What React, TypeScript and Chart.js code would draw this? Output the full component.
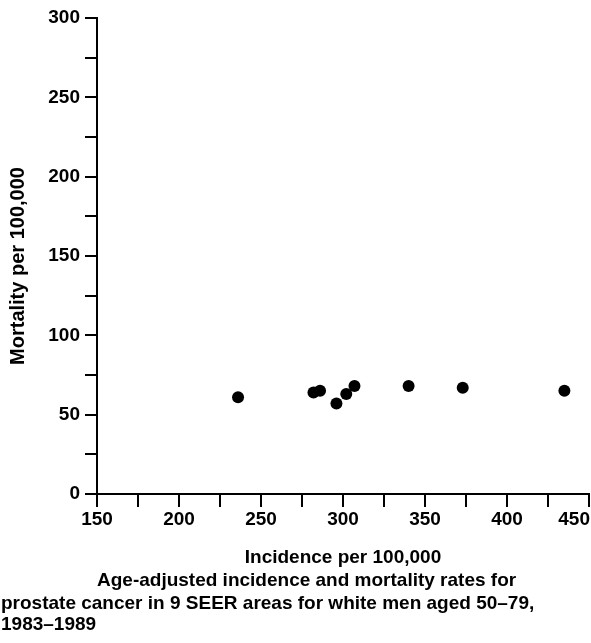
import React, { useEffect, useRef } from 'react';
import { Chart, registerables } from 'chart.js';

Chart.register(...registerables);

const incidence = [236, 282, 286, 296, 302, 307, 340, 373, 435];
const mortality = [61, 64, 65, 57, 63, 68, 68, 67, 65];
const xTickLabels = [150, 200, 250, 300, 350, 400, 450];
const yTickLabels = [0, 50, 100, 150, 200, 250, 300];
const xTitle = 'Incidence per 100,000';
const yTitle = 'Mortality per 100,000';
const captionLines = [
  'Age-adjusted incidence and mortality rates for',
  'prostate cancer in 9 SEER areas for white men aged 50–79,',
  '1983–1989',
];

const FONT = '"Liberation Sans", Arial, sans-serif';

export default function App() {
  const ref = useRef<HTMLCanvasElement>(null);

  useEffect(() => {
    document.body.style.margin = '0';
    const canvas = ref.current;
    if (!canvas) return;

    const textPlugin = {
      id: 'texts',
      afterDraw(chart: any) {
        const ctx = chart.ctx;
        const xs = chart.scales.x;
        const area = chart.chartArea;
        ctx.save();
        ctx.fillStyle = '#000';
        ctx.font = `bold 19px ${FONT}`;
        ctx.textBaseline = 'middle';
        ctx.textAlign = 'center';
        for (const v of xTickLabels) {
          const s = String(v);
          const w = ctx.measureText(s).width;
          let px = xs.getPixelForValue(v);
          px = Math.min(px, chart.width - w / 2 - 1);
          ctx.fillText(s, px, area.bottom + 26);
        }
        ctx.font = `bold 19px ${FONT}`;
        ctx.textBaseline = 'alphabetic';
        ctx.fillText(xTitle, (area.left + area.right) / 2, area.bottom + 69);

        ctx.save();
        ctx.translate(18, (area.top + area.bottom) / 2 + 10);
        ctx.rotate(-Math.PI / 2);
        ctx.textBaseline = 'middle';
        ctx.textAlign = 'center';
        ctx.font = `bold 20px ${FONT}`;
        ctx.fillText(yTitle, 0, 0);
        ctx.restore();

        ctx.textAlign = 'left';
        ctx.textBaseline = 'alphabetic';
        ctx.font = `bold 19px ${FONT}`;
        ctx.fillText(captionLines[0], area.left, area.bottom + 92);
        ctx.fillText(captionLines[1], 1, area.bottom + 115);
        ctx.fillText(captionLines[2], 1, area.bottom + 136);
        ctx.restore();
      },
    };

    const gridOpts = (len: number) => ({
      drawOnChartArea: false,
      drawTicks: true,
      tickLength: len,
      tickWidth: 2,
      lineWidth: 2,
      color: '#000',
    });

    const chart = new Chart(canvas, {
      type: 'scatter',
      data: {
        datasets: [
          {
            data: incidence.map((x, i) => ({ x, y: mortality[i] })),
            backgroundColor: '#000',
            borderColor: '#000',
            borderWidth: 0,
            pointRadius: 6,
            pointHoverRadius: 6,
          },
        ],
      },
      options: {
        responsive: false,
        animation: false,
        layout: { autoPadding: false, padding: { top: 18, right: 2, left: 0, bottom: 0 } },
        plugins: {
          legend: { display: false },
          tooltip: { enabled: false },
        },
        scales: {
          x: {
            type: 'linear',
            position: 'bottom',
            min: 150,
            max: 450,
            ticks: { stepSize: 25, callback: () => '' },
            grid: gridOpts(13),
            border: { display: true, color: '#000', width: 2 },
            afterFit: (s: any) => {
              s.height = 149;
              s.paddingLeft = 0;
              s.paddingRight = 0;
            },
          },
          y: {
            type: 'linear',
            min: 0,
            max: 300,
            ticks: {
              stepSize: 25,
              callback: (v: any) => (yTickLabels.includes(Number(v)) ? String(v) : ''),
              font: { family: FONT, size: 19, weight: 'bold' },
              color: '#000',
              padding: 5,
            },
            grid: gridOpts(12),
            border: { display: true, color: '#000', width: 2 },
            afterFit: (s: any) => {
              s.width = 97;
              s.paddingTop = 0;
              s.paddingBottom = 0;
            },
          },
        },
      },
      plugins: [textPlugin],
    });

    return () => chart.destroy();
  }, []);

  return (
    <div style={{ width: 591, height: 643 }}>
      <canvas ref={ref} width={591} height={643} style={{ display: 'block' }} />
    </div>
  );
}
